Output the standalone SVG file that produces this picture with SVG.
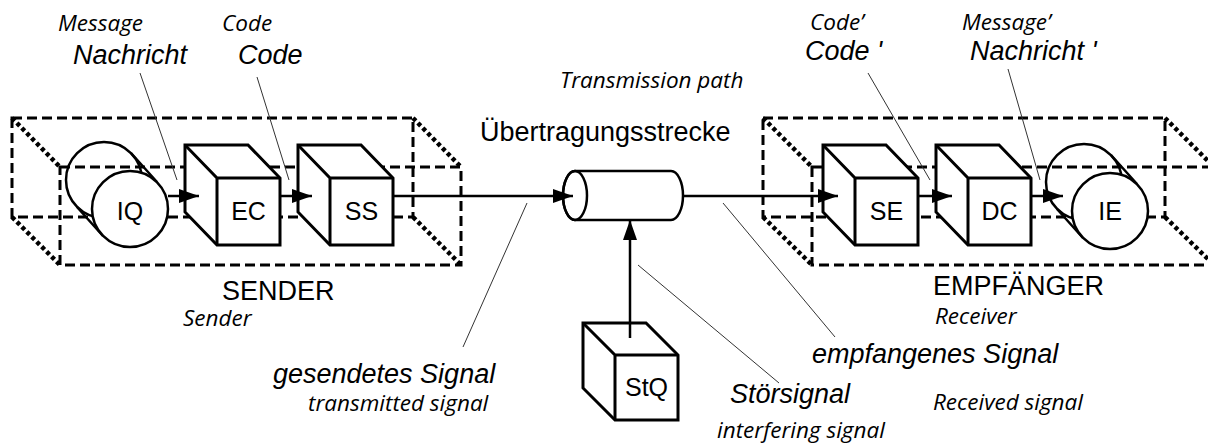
<svg xmlns="http://www.w3.org/2000/svg" width="1208" height="443" viewBox="0 0 1208 443">
<style>
.dash{fill:none;stroke:#000;stroke-width:3;stroke-dasharray:10 5}
.dot{fill:none;stroke:#000;stroke-width:4.5;stroke-dasharray:4 3}
.cube{fill:#fff;stroke:#000;stroke-width:3;stroke-linejoin:miter}
.edge{fill:none;stroke:#000;stroke-width:3}
.cyl{fill:none;stroke:#000;stroke-width:2.5}
.cylf{fill:#fff;stroke:#000;stroke-width:2.5}
.lbl{font-family:"Liberation Sans",Arial,sans-serif;font-size:25px;fill:#000;text-anchor:middle}
.big{font-family:"Liberation Sans",Arial,sans-serif;font-size:27px;fill:#000}
.bigi{font-family:"Liberation Sans",Arial,sans-serif;font-size:27px;font-style:italic;fill:#000}
.sm{font-family:"Open Sans",sans-serif;font-size:22.5px;font-style:italic;fill:#000}
.sig{fill:none;stroke:#000;stroke-width:2.5}
.lead{fill:none;stroke:#333;stroke-width:1}
</style>
<defs>
<marker id="ah" markerUnits="userSpaceOnUse" markerWidth="22" markerHeight="16" refX="20" refY="7" orient="auto">
<path d="M0,0 L20,7 L0,14 Z" fill="#000"/>
</marker>
</defs>

<g id="sender-box">
<rect class="dash" x="12" y="118" width="401" height="99"/>
<rect class="dash" x="60" y="167" width="401" height="98"/>
<path class="dot" d="M12,118 L60,167 M12,217 L60,265 M413,118 L461,167 M413,217 L461,265"/>
</g>
<g id="receiver-box">
<rect class="dash" x="763" y="118" width="402" height="99"/>
<rect class="dash" x="812" y="167" width="402" height="98"/>
<path class="dot" d="M763,118 L812,167 M763,217 L812,265 M1165,118 L1214,167 M1165,217 L1214,265"/>
</g>

<g id="IQ">
<circle class="cyl" cx="104" cy="180" r="38"/>
<path class="cyl" d="M131,153 L157,182 M77,207 L103,236"/>
<circle class="cylf" cx="130" cy="209" r="38"/>
<text class="lbl" x="130" y="220">IQ</text>
</g>

<g id="EC">
<polygon class="cube" points="185,145 248,145 280,178 280,245 217,245 185,212"/>
<path class="edge" d="M185,145 L217,178 L280,178 M217,178 L217,245"/>
<text class="lbl" x="248.5" y="220">EC</text>
</g>

<g id="SS">
<polygon class="cube" points="298,145 361,145 393,178 393,245 330,245 298,212"/>
<path class="edge" d="M298,145 L330,178 L393,178 M330,178 L330,245"/>
<text class="lbl" x="361.5" y="220">SS</text>
</g>

<g id="channel">
<path class="cylf" d="M575,171 L671,171 A12,24.5 0 0 1 671,220 L575,220 A12,24.5 0 0 1 575,171 Z"/>
<ellipse class="cyl" cx="575" cy="195.5" rx="12" ry="24.5"/>
</g>

<g id="SE">
<polygon class="cube" points="823,145 886,145 918,178 918,245 855,245 823,212"/>
<path class="edge" d="M823,145 L855,178 L918,178 M855,178 L855,245"/>
<text class="lbl" x="886.5" y="220">SE</text>
</g>

<g id="DC">
<polygon class="cube" points="936,145 999,145 1031,178 1031,245 968,245 936,212"/>
<path class="edge" d="M936,145 L968,178 L1031,178 M968,178 L968,245"/>
<text class="lbl" x="999.5" y="220">DC</text>
</g>

<g id="IE">
<circle class="cyl" cx="1084" cy="182" r="38"/>
<path class="cyl" d="M1111,155 L1137,184 M1057,209 L1083,238"/>
<circle class="cylf" cx="1110" cy="211" r="38"/>
<text class="lbl" x="1110" y="220">IE</text>
</g>

<g id="StQ">
<polygon class="cube" points="583,323 646,323 678,355 678,420 615,420 583,388"/>
<path class="edge" d="M583,323 L615,355 L678,355 M615,355 L615,420"/>
<text class="lbl" x="646.5" y="396">StQ</text>
</g>

<g id="connectors">
<line class="sig" x1="168" y1="196" x2="199" y2="196" marker-end="url(#ah)"/>
<line class="sig" x1="280" y1="196" x2="312" y2="196" marker-end="url(#ah)"/>
<line class="sig" x1="393" y1="196" x2="573" y2="196" marker-end="url(#ah)"/>
<line class="sig" x1="683" y1="196" x2="838" y2="196" marker-end="url(#ah)"/>
<line class="sig" x1="918" y1="196" x2="952" y2="196" marker-end="url(#ah)"/>
<line class="sig" x1="1031" y1="196" x2="1063" y2="196" marker-end="url(#ah)"/>
<line class="sig" x1="630" y1="338" x2="630" y2="220" marker-end="url(#ah)"/>
<g id="leaders">
<line class="lead" x1="140" y1="73" x2="177" y2="180"/>
<line class="lead" x1="257" y1="77" x2="289" y2="180"/>
<line class="lead" x1="868" y1="73" x2="930" y2="180"/>
<line class="lead" x1="1008" y1="69" x2="1040" y2="180"/>
<line class="lead" x1="527" y1="203" x2="463" y2="347"/>
<line class="lead" x1="638" y1="265" x2="779" y2="383"/>
<line class="lead" x1="723" y1="203" x2="835" y2="337"/>
</g>
</g>

<g id="labels">
<text class="sm" x="58" y="31">Message</text>
<text class="bigi" x="73" y="64">Nachricht</text>
<text class="sm" x="222" y="31">Code</text>
<text class="bigi" x="238" y="64">Code</text>
<text class="sm" x="810" y="30">Code’</text>
<text class="bigi" x="805" y="60">Code '</text>
<text class="sm" x="962" y="30">Message’</text>
<text class="bigi" x="970" y="60">Nachricht '</text>
<text class="sm" x="560" y="88">Transmission path</text>
<text class="big" x="480" y="141">Übertragungsstrecke</text>
<text class="big" x="222" y="300">SENDER</text>
<text class="sm" x="183" y="326" font-size="21">Sender</text>
<text class="big" x="933" y="295">EMPFÄNGER</text>
<text class="sm" x="935" y="324" font-size="21">Receiver</text>
<text class="bigi" x="273" y="383">gesendetes Signal</text>
<text class="sm" x="308" y="411">transmitted signal</text>
<text class="bigi" x="812" y="363">empfangenes Signal</text>
<text class="bigi" x="730" y="403">Störsignal</text>
<text class="sm" x="717" y="438">interfering signal</text>
<text class="sm" x="933" y="410">Received signal</text>
</g>
</svg>
